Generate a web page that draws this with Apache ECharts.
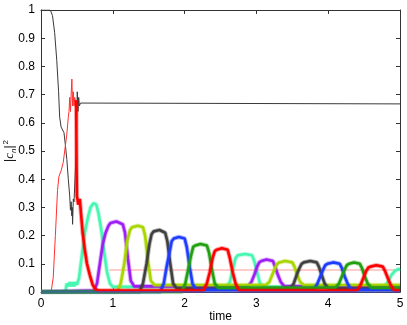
<!DOCTYPE html>
<html>
<head>
<meta charset="utf-8">
<script src="https://cdn.jsdelivr.net/npm/echarts@6/dist/echarts.min.js"></script>
<style>
  html, body { margin: 0; padding: 0; background: #fff; }
  #chart { width: 407px; height: 325px; }
</style>
</head>
<body>
<div id="chart"></div>
<script>
// [time, |c_n|^2] pairs
const blackCurve = [
  [0, 1], [0.13, 1], [0.16, 0.98], [0.19, 0.92], [0.22, 0.82], [0.245, 0.71], [0.26, 0.62],
  [0.28, 0.585], [0.32, 0.565], [0.34, 0.52], [0.36, 0.47], [0.38, 0.4], [0.4, 0.34],
  [0.41, 0.29], [0.42, 0.32], [0.43, 0.27], [0.435, 0.3], [0.44, 0.24], [0.45, 0.33],
  [0.46, 0.32], [0.49, 0.5], [0.505, 0.71], [0.515, 0.64], [0.525, 0.69], [0.535, 0.66],
  [0.55, 0.67], [5, 0.667]
];
const redRise = [
  [0, 0], [0.14, 0], [0.17, 0.05], [0.2, 0.2], [0.23, 0.36], [0.25, 0.41], [0.28, 0.43],
  [0.31, 0.46], [0.33, 0.5], [0.36, 0.56], [0.38, 0.62], [0.39, 0.64], [0.4, 0.69],
  [0.41, 0.64], [0.42, 0.7], [0.43, 0.755], [0.44, 0.66], [0.45, 0.71], [0.46, 0.66],
  [0.47, 0.69], [0.48, 0.67], [0.49, 0.68]
];
const redCurve = [
  [0.49, 0.68], [0.495, 0.45], [0.5, 0.34], [0.52, 0.31], [0.54, 0.33], [0.56, 0.27],
  [0.58, 0.21], [0.61, 0.15], [0.64, 0.1], [0.68, 0.06], [0.72, 0.025], [0.76, 0.01],
  [0.8, 0.005], [2.26, 0.005], [2.31, 0.03], [2.35, 0.07], [2.39, 0.12], [2.42, 0.145],
  [2.45, 0.15], [2.52, 0.155], [2.6, 0.15], [2.63, 0.12], [2.67, 0.07], [2.71, 0.03],
  [2.76, 0.005], [4.4, 0.005], [4.45, 0.025], [4.49, 0.05], [4.53, 0.075], [4.56, 0.087],
  [4.59, 0.09], [4.67, 0.095], [4.76, 0.09], [4.79, 0.075], [4.83, 0.05], [4.87, 0.025],
  [4.92, 0.005], [5, 0.005]
];
const cyanCurve = [
  [0, 0], [0.34, 0], [0.36, 0.03], [0.38, 0.02], [0.4, 0.035], [0.42, 0.02], [0.44, 0.035],
  [0.46, 0.02], [0.48, 0.035], [0.5, 0.025], [0.53, 0.05], [0.57, 0.13], [0.61, 0.21],
  [0.65, 0.26], [0.69, 0.3], [0.73, 0.315], [0.77, 0.31], [0.8, 0.28], [0.84, 0.22],
  [0.88, 0.14], [0.92, 0.07], [0.96, 0.03], [1, 0.018], [2.58, 0.018], [2.63, 0.035],
  [2.67, 0.08], [2.71, 0.12], [2.74, 0.13], [2.84, 0.135], [2.94, 0.13], [2.97, 0.11],
  [3.01, 0.07], [3.05, 0.03], [3.1, 0.018], [4.78, 0.018], [4.83, 0.035], [4.88, 0.06],
  [4.93, 0.075], [4.97, 0.08], [5, 0.082]
];
const purpleCurve = [
  [0, 0], [0.74, 0.005], [0.78, 0.03], [0.82, 0.1], [0.86, 0.17], [0.9, 0.21], [0.94, 0.235],
  [0.97, 0.245], [1.05, 0.25], [1.14, 0.24], [1.17, 0.21], [1.21, 0.12], [1.25, 0.04],
  [1.3, 0.02], [2.88, 0.02], [2.93, 0.035], [2.97, 0.06], [3.01, 0.09], [3.04, 0.105],
  [3.07, 0.11], [3.14, 0.115], [3.23, 0.11], [3.26, 0.09], [3.3, 0.06], [3.34, 0.035],
  [3.39, 0.02], [5, 0.02]
];
const ygCurve = [
  [0, 0], [1.06, 0], [1.11, 0.03], [1.16, 0.1], [1.2, 0.18], [1.24, 0.22], [1.27, 0.23],
  [1.35, 0.235], [1.42, 0.23], [1.45, 0.2], [1.49, 0.11], [1.53, 0.04], [1.58, 0.025],
  [3.13, 0.025], [3.18, 0.035], [3.22, 0.06], [3.26, 0.085], [3.29, 0.1], [3.32, 0.105],
  [3.4, 0.11], [3.5, 0.105], [3.53, 0.09], [3.57, 0.06], [3.61, 0.035], [3.66, 0.025],
  [5, 0.025]
];
const greyCurve = [
  [0, 0], [1.37, 0], [1.42, 0.03], [1.47, 0.1], [1.51, 0.17], [1.54, 0.205], [1.57, 0.215],
  [1.65, 0.22], [1.73, 0.21], [1.76, 0.18], [1.8, 0.1], [1.84, 0.03], [1.89, 0.012],
  [3.47, 0.012], [3.52, 0.03], [3.56, 0.06], [3.6, 0.085], [3.63, 0.1], [3.66, 0.105],
  [3.75, 0.11], [3.84, 0.105], [3.87, 0.09], [3.91, 0.06], [3.95, 0.03], [4, 0.012],
  [5, 0.012]
];
const blueCurve = [
  [0, 0], [1.66, 0], [1.71, 0.03], [1.75, 0.09], [1.79, 0.14], [1.82, 0.18], [1.85, 0.19],
  [1.92, 0.195], [2, 0.19], [2.03, 0.16], [2.07, 0.09], [2.11, 0.03], [2.16, 0.008],
  [3.8, 0.008], [3.85, 0.03], [3.89, 0.055], [3.93, 0.08], [3.96, 0.095], [3.99, 0.1],
  [4.07, 0.105], [4.16, 0.1], [4.19, 0.085], [4.23, 0.055], [4.27, 0.03], [4.32, 0.008],
  [5, 0.008]
];
const greenCurve = [
  [0, 0], [1.96, 0], [2.01, 0.03], [2.05, 0.08], [2.09, 0.13], [2.12, 0.16], [2.15, 0.165],
  [2.22, 0.17], [2.31, 0.165], [2.34, 0.14], [2.38, 0.08], [2.42, 0.03], [2.47, 0.015],
  [4.1, 0.015], [4.15, 0.03], [4.19, 0.055], [4.23, 0.08], [4.26, 0.095], [4.29, 0.1],
  [4.36, 0.105], [4.44, 0.1], [4.47, 0.085], [4.51, 0.055], [4.55, 0.03], [4.6, 0.015],
  [5, 0.015]
];
const pinkLevel = [[0.95, 0.078], [5, 0.078]];
const zeroLevel = [[0, 0], [5, 0]];

const chart = echarts.init(document.getElementById('chart'));

const line = (data, color, width, opacity = 1) => ({
  type: 'line',
  data,
  symbol: 'none',
  silent: true,
  lineStyle: { color, width, opacity },
  z: 2
});

// noisy band: a wide faint stroke under the main one
const band = (data, color) => [line(data, color, 4.5, 0.35), line(data, color, 2.6)];

const axisCommon = {
  type: 'value',
  axisLine: { show: true, onZero: false, lineStyle: { color: '#333', width: 1 } },
  axisTick: { show: true, inside: true, length: 4, lineStyle: { color: '#333' } },
  splitLine: { show: false }
};

chart.setOption({
  animation: false,
  textStyle: { fontFamily: 'Liberation Sans' },
  grid: { left: 41, right: 7, top: 10, bottom: 33, outerBoundsMode: 'none', containLabel: false },
  xAxis: [
    {
      ...axisCommon,
      min: 0,
      max: 5,
      interval: 1,
      position: 'bottom',
      name: 'time',
      nameLocation: 'middle',
      nameGap: 19,
      nameMoveOverlap: false,
      nameTextStyle: { color: '#000', fontSize: 12, fontFamily: 'Liberation Sans' },
      axisLabel: { color: '#000', fontSize: 12, margin: 6 }
    },
    {
      ...axisCommon,
      min: 0,
      max: 5,
      interval: 1,
      position: 'top',
      axisLabel: { show: false }
    }
  ],
  yAxis: [
    {
      ...axisCommon,
      min: 0,
      max: 1,
      interval: 0.1,
      position: 'left',
      name: '{a||}{c|c}{s|n}{a||}{p|2}',
      nameLocation: 'middle',
      nameGap: 23,
      nameRotate: 90,
      nameMoveOverlap: false,
      nameTextStyle: {
        color: '#000',
        fontSize: 12,
        rich: {
          a: { fontSize: 12, color: '#000' },
          c: { fontSize: 13, fontStyle: 'italic', color: '#000', fontFamily: 'Liberation Serif' },
          s: { fontSize: 8, fontStyle: 'italic', color: '#000', verticalAlign: 'bottom', padding: [6, 0, 0, 0] },
          p: { fontSize: 8, color: '#000', verticalAlign: 'top', padding: [0, 0, 8, 1] }
        }
      },
      axisLabel: { color: '#000', fontSize: 12, margin: 6 }
    },
    {
      ...axisCommon,
      min: 0,
      max: 1,
      interval: 0.1,
      position: 'right',
      axisLabel: { show: false }
    }
  ],
  series: [
    line(pinkLevel, '#ff9a9a', 1.2),
    line(blackCurve, '#3a3a3a', 1),
    line(redRise, '#ff3030', 1),
    ...band(cyanCurve, '#45f7b0'),
    ...band(purpleCurve, '#9d1ef2'),
    ...band(ygCurve, '#a9d600'),
    ...band(greyCurve, '#404040'),
    ...band(blueCurve, '#1d3cff'),
    ...band(greenCurve, '#20a010'),
    ...band(redCurve, '#ff0000'),
    line(zeroLevel, '#4555c0', 1.5)
  ]
});
</script>
</body>
</html>
